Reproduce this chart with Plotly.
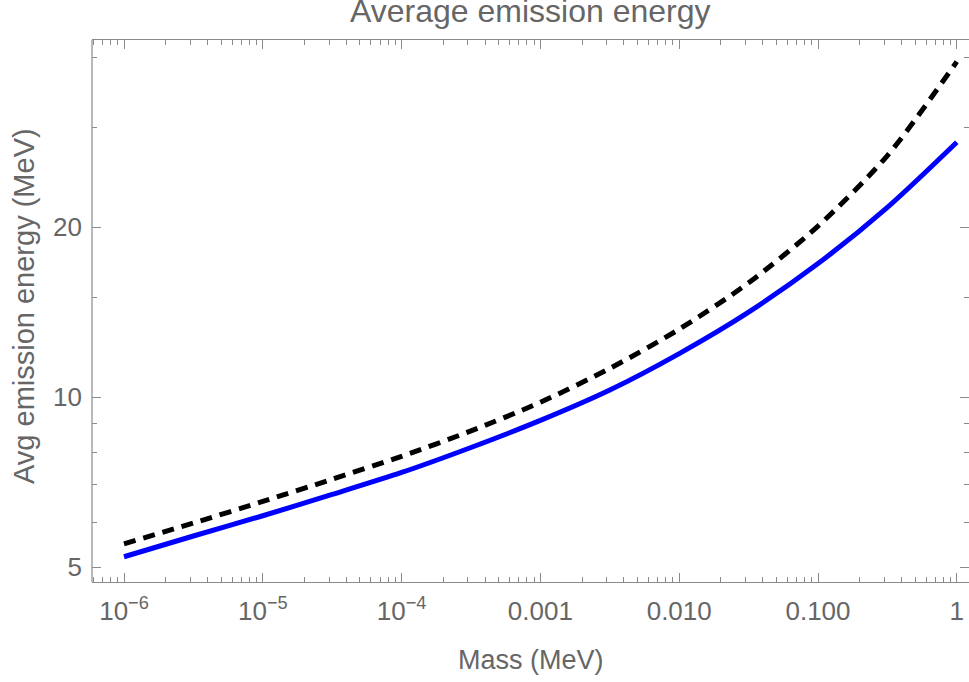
import plotly.graph_objects as go

# Data
mass = [1e-6, 10**-5.5, 1e-5, 10**-4.5, 1e-4, 10**-3.5, 1e-3, 10**-2.5, 1e-2, 10**-1.5, 1e-1, 10**-0.5, 1.0]
energy_blue = [5.22, 5.68, 6.17, 6.73, 7.36, 8.15, 9.10, 10.3, 11.95, 14.15, 17.25, 21.7, 28.3]
energy_dashed = [5.50, 5.99, 6.54, 7.16, 7.86, 8.72, 9.80, 11.25, 13.2, 15.95, 20.1, 26.8, 39.3]

x_tickvals = [1e-6, 1e-5, 1e-4, 1e-3, 1e-2, 1e-1, 1]
x_ticktext = ["10<sup>−6</sup>", "10<sup>−5</sup>", "10<sup>−4</sup>", "0.001", "0.010", "0.100", "1"]
y_tickvals = [5, 10, 20]
y_ticktext = ["5", "10", "20"]
y_minor = [6, 7, 8, 9, 15, 30, 40]

x_minor = []
for e in range(-7, 1):
    for d in range(2, 10):
        x_minor.append(d * 10.0**e)

FONT = "Liberation Sans, Arial, sans-serif"
TXT = "#666666"
AX = "#8a8a8a"

fig = go.Figure()
fig.add_trace(go.Scatter(x=mass, y=energy_blue, mode="lines",
                         line=dict(color="#0000ff", width=5, shape="spline", smoothing=0.8), showlegend=False))
fig.add_trace(go.Scatter(x=mass, y=energy_dashed, mode="lines",
                         line=dict(color="#000000", width=5, dash="12px,8px", shape="spline", smoothing=0.8), showlegend=False))

W, H = 969, 682
L, R, T, B = 92, 0, 40, 100
PH = H - B - T
PW = W - L - R
# pixel calibration: 1e-6 at x=124, 138.8 px/decade; 10 at y=397.3, 564.7 px/decade
xlo = -6 - (124 - L) / 138.8
xhi = -6 + (W - R - 124) / 138.8
ylo = 1 - ((H - B) - 397.3) / 564.7
yhi = 1 + (397.3 - T) / 564.7

fig.update_layout(
    width=W, height=H,
    margin=dict(l=L, r=R, t=T, b=B, autoexpand=False),
    paper_bgcolor="white", plot_bgcolor="white",
    font=dict(family=FONT, color=TXT),
    xaxis=dict(type="log", range=[xlo, xhi], showgrid=False, zeroline=False, automargin=False,
               showline=True, linecolor=AX, linewidth=1.2, mirror="ticks",
               tickmode="array", tickvals=x_tickvals, ticktext=x_ticktext,
               ticks="inside", ticklen=9, tickcolor=AX, tickwidth=1,
               tickfont=dict(size=26, color=TXT, family=FONT), ticklabelstandoff=6,
               minor=dict(tickmode="array", tickvals=x_minor, ticks="inside", ticklen=5, tickcolor=AX, tickwidth=1, showgrid=False)),
    yaxis=dict(type="log", range=[ylo, yhi], showgrid=False, zeroline=False, automargin=False,
               showline=False, mirror="ticks",
               tickmode="array", tickvals=y_tickvals, ticktext=y_ticktext,
               ticks="inside", ticklen=9, tickcolor=AX, tickwidth=1,
               tickfont=dict(size=26, color=TXT, family=FONT), ticklabelstandoff=9,
               minor=dict(tickmode="array", tickvals=y_minor, ticks="inside", ticklen=5, tickcolor=AX, tickwidth=1, showgrid=False)),
    shapes=[dict(type="line", xref="paper", yref="paper", x0=0, x1=0, y0=0, y1=1, line=dict(color=AX, width=1.2))],
    annotations=[
        dict(text="Average emission energy", xref="paper", yref="paper", x=0.5, y=1 + (T - 11) / PH,
             xanchor="center", yanchor="middle", showarrow=False, font=dict(size=32, color=TXT, family=FONT)),
        dict(text="Mass (MeV)", xref="paper", yref="paper", x=0.5, y=-(660 - (H - B)) / PH,
             xanchor="center", yanchor="middle", showarrow=False, font=dict(size=27, color=TXT, family=FONT)),
        dict(text="Avg emission energy (MeV)", xref="paper", yref="paper", x=-(L - 24) / PW, y=0.5 - (306 - 311) / PH,
             xanchor="center", yanchor="middle", textangle=-90, showarrow=False, font=dict(size=29, color=TXT, family=FONT)),
    ],
)

fig.write_html("out.html", config={"displayModeBar": False},
               post_script="document.body.style.margin='0';document.body.style.overflow='hidden';")
